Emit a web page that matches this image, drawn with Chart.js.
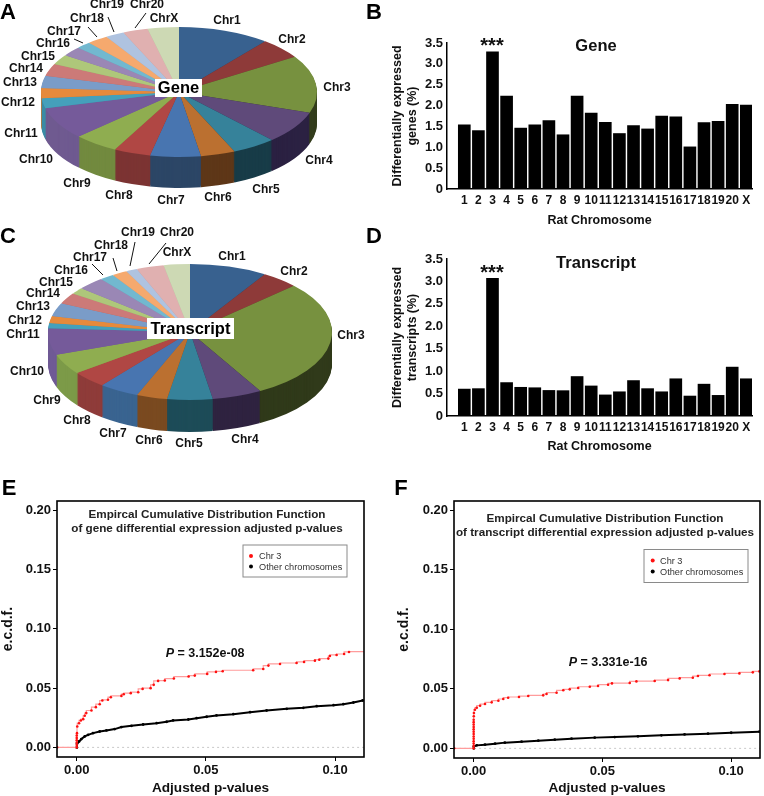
<!DOCTYPE html>
<html>
<head>
<meta charset="utf-8">
<title>Rat chromosome differential expression</title>
<script src="https://cdn.jsdelivr.net/npm/chart.js@4"></script>
<style>
    html, body { margin: 0; padding: 0; background: #fff; }
    #figure { position: relative; width: 764px; height: 796px; overflow: hidden; }
    canvas { position: absolute; }
</style>
</head>
<body>
<div id="figure"></div>
<script>
// chromosome names
const chrNames = ['Chr1', 'Chr2', 'Chr3', 'Chr4', 'Chr5', 'Chr6', 'Chr7', 'Chr8', 'Chr9', 'Chr10', 'Chr11',
    'Chr12', 'Chr13', 'Chr14', 'Chr15', 'Chr16', 'Chr17', 'Chr18', 'Chr19', 'Chr20', 'ChrX'];
const barLabels = ['1', '2', '3', '4', '5', '6', '7', '8', '9', '10', '11', '12', '13', '14', '15', '16', '17', '18', '19', '20', 'X'];

// pie shares, read as degrees of the untilted circle
const genePie = [38.8, 18.5, 51.7, 29, 18.7, 14.6, 21.4, 15.6, 19, 29, 9, 9, 11, 11, 9, 8.6, 6.3, 9, 8, 10.6, 13.2];
const transcriptPie = [31.8, 15.2, 103.3, 20.4, 18.6, 12.6, 16.4, 14.5, 17.5, 22.7, 4.5, 6, 11.4, 9.4, 5.6, 11.2, 5.9, 6.3, 4.6, 11.3, 10.7];

// bars, percent
const geneBars = [1.54, 1.40, 3.29, 2.23, 1.46, 1.54, 1.64, 1.30, 2.23, 1.82, 1.60, 1.33, 1.52, 1.44, 1.75, 1.73, 1.01, 1.59, 1.62, 2.03, 2.01];
const transcriptBars = [0.60, 0.61, 3.07, 0.745, 0.64, 0.63, 0.57, 0.565, 0.88, 0.67, 0.47, 0.54, 0.79, 0.61, 0.54, 0.83, 0.445, 0.71, 0.46, 1.09, 0.83];
const barTicks = [0, 0.5, 1, 1.5, 2, 2.5, 3, 3.5];

// e.c.d.f. curves
const geneChr3X = [-0.0076, 0, 0, 0, 0, 0, 0, 0.0001, 0.0002, 0.0009, 0.0016, 0.0025, 0.0031, 0.0037, 0.0057, 0.0074, 0.0089, 0.0099, 0.0121, 0.0132, 0.0173, 0.0182, 0.0209, 0.0238, 0.0255, 0.0286, 0.0298, 0.0315, 0.0341, 0.0376, 0.0433, 0.0457, 0.0505, 0.0539, 0.0565, 0.0683, 0.0722, 0.0742, 0.0787, 0.0851, 0.088, 0.0922, 0.0939, 0.0974, 0.098, 0.1006, 0.1035, 0.1054, 0.112];
const geneChr3Y = [0, 0, 0.002, 0.004, 0.006, 0.008, 0.01, 0.012, 0.0176, 0.0204, 0.0227, 0.0238, 0.0266, 0.0289, 0.0311, 0.0339, 0.0364, 0.0395, 0.0401, 0.0423, 0.0434, 0.0448, 0.0457, 0.0465, 0.0493, 0.0499, 0.0527, 0.056, 0.0563, 0.058, 0.0597, 0.0605, 0.0619, 0.0636, 0.0641, 0.065, 0.0661, 0.0689, 0.0703, 0.0711, 0.072, 0.0731, 0.0739, 0.0748, 0.077, 0.0779, 0.0787, 0.0804, 0.0807];
const geneOtherX = [0, 0.0001, 0.0009, 0.0018, 0.0031, 0.0044, 0.0063, 0.0089, 0.0115, 0.0147, 0.0173, 0.0212, 0.0257, 0.0309, 0.0348, 0.0373, 0.0432, 0.0464, 0.0503, 0.0541, 0.0606, 0.0671, 0.0735, 0.0813, 0.0877, 0.0929, 0.0994, 0.1032, 0.1071, 0.1107];
const geneOtherY = [0, 0.0031, 0.005, 0.007, 0.0092, 0.0106, 0.012, 0.0134, 0.0143, 0.0154, 0.0171, 0.0182, 0.0193, 0.0204, 0.0216, 0.0227, 0.0235, 0.0246, 0.0258, 0.0269, 0.028, 0.0297, 0.0311, 0.0325, 0.0333, 0.0347, 0.0356, 0.0364, 0.0378, 0.0395];
const transcriptChr3X = [-0.0076, 0, 0, 0, 0, 0, 0, 0, 0, 0, 0, 0, 0, 0, 0.00005, 0.0001, 0.0005, 0.0012, 0.0025, 0.0044, 0.007, 0.0096, 0.0115, 0.0134, 0.0176, 0.0212, 0.027, 0.0283, 0.0322, 0.0348, 0.0373, 0.0406, 0.0451, 0.0483, 0.0522, 0.0537, 0.0606, 0.0632, 0.0703, 0.0755, 0.08, 0.0851, 0.0871, 0.0916, 0.0974, 0.1032, 0.1084, 0.111];
const transcriptChr3Y = [0, 0, 0.002, 0.004, 0.006, 0.008, 0.01, 0.012, 0.014, 0.016, 0.018, 0.02, 0.022, 0.024, 0.0269, 0.0297, 0.0324, 0.0341, 0.0358, 0.0372, 0.0386, 0.04, 0.0414, 0.0425, 0.0431, 0.0439, 0.0445, 0.0456, 0.0467, 0.0487, 0.0495, 0.0506, 0.0517, 0.0523, 0.0534, 0.0545, 0.0548, 0.0562, 0.0565, 0.0573, 0.0587, 0.0593, 0.0607, 0.0613, 0.0624, 0.0629, 0.0638, 0.0646];
const transcriptOtherX = [0, 0.0001, 0.0012, 0.0044, 0.0083, 0.0121, 0.0186, 0.0251, 0.0315, 0.038, 0.047, 0.0548, 0.0638, 0.0729, 0.0819, 0.091, 0.1, 0.111];
const transcriptOtherY = [0, 0.0017, 0.0025, 0.0031, 0.0039, 0.0048, 0.0056, 0.0064, 0.0073, 0.0081, 0.009, 0.0095, 0.0101, 0.0109, 0.0117, 0.0123, 0.0131, 0.014];
const ecdfTicksX = [0, 0.05, 0.1];
const ecdfTicksY = [0, 0.05, 0.1, 0.15, 0.2];

// colours
const sliceColors = ['#38618f', '#8e3a39', '#77913f', '#5f4a7a', '#36829a', '#bb7030', '#4875b0', '#b04744', '#8fad50', '#755a9a', '#45a0bb',
    '#e68a3c', '#7a9cc8', '#cc7a78', '#aec77a', '#9a87b5', '#72b8cf', '#f5a96e', '#afc3e0', '#e0b0b0', '#cdd9b4'];
const geneSides = ['#26405f', '#5e2626', '#333d1c', '#2b2142', '#183c48', '#5e3718', '#2c4666', '#7c3433', '#728a3f', '#6f5a90', '#3a8ca5',
    '#c87830', '#6a8ab5', '#b06a68', '#98ae6a', '#87769f', '#64a2b6', '#d8955f', '#99acc6', '#c59b9b', '#b4bf9e'];
const transcriptSides = ['#26405f', '#5e2626', '#303a1a', '#2f2340', '#1d4c58', '#7a4a20', '#3a6490', '#8f3c3a', '#7c9a48', '#6f5a95', '#3a8ca5',
    '#c87830', '#6a8ab5', '#b06a68', '#98ae6a', '#87769f', '#64a2b6', '#d8955f', '#99acc6', '#c59b9b', '#b4bf9e'];

// where the pie labels sit on the page
const genePieSpots = [[227, 21], [292, 40], [337, 88], [319, 161], [266, 190], [218, 198], [171, 201], [119, 196], [77, 184], [36, 160], [21, 134],
    [18, 103], [20, 83], [26, 69], [38, 57], [53, 44], [64, 32], [87, 19], [107, 5], [147, 5], [164, 19]];
const transcriptPieSpots = [[232, 257], [294, 272], [351, 336], [245, 440], [189, 444], [149, 441], [113, 434], [77, 421], [47, 401], [27, 372], [23, 335],
    [25, 321], [33, 307], [43, 294], [56, 283], [71, 271], [90, 258], [111, 246], [138, 233], [177, 233], [177, 253]];

Chart.defaults.font.family = '"Liberation Sans", Arial, sans-serif';
Chart.defaults.color = '#111';

const figure = document.getElementById('figure');

function addCanvas(left, top, width, height) {
    const c = document.createElement('canvas');
    c.width = width;
    c.height = height;
    c.style.left = left + 'px';
    c.style.top = top + 'px';
    c.style.width = width + 'px';
    c.style.height = height + 'px';
    figure.appendChild(c);
    return c;
}

// notes, lines and boxes are given in page coordinates
const pageMarks = {
    id: 'pageMarks',
    afterDraw(chart, args, opts) {
        const ctx = chart.ctx;
        const dx = chart.canvas.offsetLeft;
        const dy = chart.canvas.offsetTop;
        ctx.save();
        ctx.translate(-dx, -dy);
        (opts.lines || []).forEach(l => {
            ctx.strokeStyle = '#111';
            ctx.lineWidth = 1;
            ctx.beginPath();
            ctx.moveTo(l[0], l[1]);
            ctx.lineTo(l[2], l[3]);
            ctx.stroke();
        });
        (opts.boxes || []).forEach(b => {
            ctx.fillStyle = '#fff';
            ctx.fillRect(b.x, b.y, b.w, b.h);
            if (b.stroke) {
                ctx.strokeStyle = b.stroke;
                ctx.lineWidth = 1;
                ctx.strokeRect(b.x, b.y, b.w, b.h);
            }
        });
        (opts.dots || []).forEach(d => {
            ctx.fillStyle = d.color;
            ctx.beginPath();
            ctx.arc(d.x, d.y, 2, 0, Math.PI * 2);
            ctx.fill();
        });
        (opts.notes || []).forEach(n => {
            ctx.font = n.font;
            ctx.fillStyle = n.color || '#111';
            ctx.textAlign = n.align || 'center';
            ctx.textBaseline = 'middle';
            ctx.fillText(n.text, n.x, n.y);
        });
        ctx.restore();
    }
};

// squashes the pie into an ellipse and stacks the side wall under it
const tiltedPie = {
    id: 'tiltedPie',
    beforeDatasetsDraw(chart, args, opts) {
        const ctx = chart.ctx;
        const arcs = chart.getDatasetMeta(0).data;
        const r = arcs[0].outerRadius;
        const sx = opts.rx / r;
        const sy = opts.ry / r;
        const tilt = () => {
            ctx.translate(opts.cx - chart.canvas.offsetLeft, opts.cy - chart.canvas.offsetTop);
            ctx.scale(sx, sy);
            ctx.translate(-arcs[0].x, -arcs[0].y);
        };
        ctx.save();
        tilt();
        for (let d = opts.depth; d > 0; d--) {
            ctx.save();
            ctx.translate(0, d / sy);
            arcs.forEach((arc, i) => {
                const own = arc.options;
                arc.options = Object.assign({}, own, { backgroundColor: opts.sides[i] });
                arc.draw(ctx);
                arc.options = own;
            });
            ctx.restore();
        }
        ctx.restore();
        ctx.save();
        tilt();
    },
    afterDatasetsDraw(chart) {
        chart.ctx.restore();
    }
};

function drawPie(canvas, values, sides, geom, spots, centerText, centerBox, leaders, letter) {
    const bold = 'bold 12px "Liberation Sans"';
    const notes = chrNames.map((name, i) => ({ text: name, x: spots[i][0], y: spots[i][1], font: bold }));
    notes.push({ text: centerText, x: centerBox.x + centerBox.w / 2, y: centerBox.y + centerBox.h / 2 + 0.5, font: 'bold 16.5px "Liberation Sans"', color: '#000' });
    notes.push(letter);
    return new Chart(canvas.getContext('2d'), {
        type: 'pie',
        data: {
            labels: chrNames,
            datasets: [{ data: values, backgroundColor: sliceColors, borderWidth: 0, clip: false }]
        },
        options: {
            responsive: false,
            animation: false,
            events: [],
            plugins: {
                legend: { display: false },
                tooltip: { enabled: false },
                tiltedPie: Object.assign({ sides: sides }, geom),
                pageMarks: {
                    lines: leaders,
                    boxes: [centerBox],
                    notes: notes
                }
            }
        },
        plugins: [tiltedPie, pageMarks]
    });
}

function drawBars(canvas, values, yTitle, plot, notes) {
    const left = canvas.offsetLeft;
    const top = canvas.offsetTop;
    return new Chart(canvas.getContext('2d'), {
        type: 'bar',
        data: {
            datasets: [{
                data: values.map((v, i) => ({ x: i + 1, y: v })),
                backgroundColor: '#000',
                barThickness: 12
            }]
        },
        options: {
            responsive: false,
            animation: false,
            events: [],
            layout: { padding: { left: 0, top: plot.top - top, right: canvas.width - (plot.right - left), bottom: 0 } },
            plugins: {
                legend: { display: false },
                tooltip: { enabled: false },
                pageMarks: { notes: notes }
            },
            scales: {
                x: {
                    type: 'linear',
                    min: -0.227,
                    max: 21.404,
                    offset: false,
                    grid: { display: false, drawTicks: false },
                    border: { color: '#000', width: 1.5 },
                    afterBuildTicks(scale) { scale.ticks = barLabels.map((_, i) => ({ value: i + 1 })); },
                    afterFit(scale) { scale.height = canvas.height - (plot.bottom - top); },
                    ticks: {
                        autoSkip: false,
                        maxRotation: 0,
                        padding: 4,
                        font: { size: 12, weight: 'bold' },
                        callback: v => barLabels[v - 1]
                    },
                    title: { display: true, text: 'Rat Chromosome', font: { size: 12.5, weight: 'bold' }, padding: { top: 6, bottom: 0 } }
                },
                y: {
                    min: 0,
                    max: 3.5,
                    grid: { display: false, drawTicks: false },
                    border: { color: '#000', width: 1.5 },
                    afterBuildTicks(scale) { scale.ticks = barTicks.map(v => ({ value: v })); },
                    afterFit(scale) { scale.width = plot.left - left; },
                    ticks: {
                        padding: 4,
                        font: { size: 13, weight: 'bold' },
                        callback: v => (v === 0 ? '0' : v.toFixed(1))
                    },
                    title: { display: true, text: yTitle, font: { size: 12.5, weight: 'bold' }, padding: { top: 24, bottom: 0 } }
                }
            }
        },
        plugins: [pageMarks]
    });
}

const plotFrame = {
    id: 'plotFrame',
    afterDatasetsDraw(chart) {
        const a = chart.chartArea;
        const ctx = chart.ctx;
        ctx.save();
        ctx.strokeStyle = '#000';
        ctx.lineWidth = 1.6;
        ctx.strokeRect(a.left, a.top, a.right - a.left, a.bottom - a.top);
        ctx.restore();
    }
};

function zip(xs, ys) {
    return xs.map((x, i) => ({ x: x, y: ys[i] }));
}

function drawEcdf(canvas, chr3, other, plot, titlePad, marks) {
    const left = canvas.offsetLeft;
    const top = canvas.offsetTop;
    return new Chart(canvas.getContext('2d'), {
        type: 'scatter',
        data: {
            datasets: [
                { data: chr3, showLine: true, stepped: 'after', borderColor: '#ff9c9c', borderWidth: 1.2, pointRadius: 1.3, pointBackgroundColor: '#ff1010', pointBorderWidth: 0 },
                { data: other, showLine: true, borderColor: '#000', borderWidth: 2, pointRadius: 1.4, pointBackgroundColor: '#000', pointBorderWidth: 0 },
                { data: [{ x: -0.0076, y: 0 }, { x: 0.112, y: 0 }], showLine: true, borderColor: '#c8c8c8', borderWidth: 1, borderDash: [2, 3], pointRadius: 0, order: 5 }
            ]
        },
        options: {
            responsive: false,
            animation: false,
            events: [],
            layout: { padding: { left: 0, top: plot.top - top, right: canvas.width - (plot.right - left), bottom: 0 } },
            plugins: {
                legend: { display: false },
                tooltip: { enabled: false },
                pageMarks: marks
            },
            scales: {
                x: {
                    type: 'linear',
                    min: -0.00764,
                    max: 0.1112,
                    grid: { drawOnChartArea: false, drawTicks: true, tickLength: 4, color: '#000' },
                    border: { display: false },
                    afterBuildTicks(scale) { scale.ticks = ecdfTicksX.map(v => ({ value: v })); },
                    afterFit(scale) { scale.height = canvas.height - (plot.bottom - top); },
                    ticks: { padding: 2, maxRotation: 0, font: { size: 13, weight: 'bold' }, callback: v => v.toFixed(2) },
                    title: { display: true, text: 'Adjusted p-values', font: { size: 13.6, weight: 'bold' }, padding: { top: 2, bottom: 0 } }
                },
                y: {
                    type: 'linear',
                    min: -0.0081,
                    max: 0.2076,
                    grid: { drawOnChartArea: false, drawTicks: true, tickLength: 4, color: '#000' },
                    border: { display: false },
                    afterBuildTicks(scale) { scale.ticks = ecdfTicksY.map(v => ({ value: v })); },
                    afterFit(scale) { scale.width = plot.left - left; },
                    ticks: { padding: 2, font: { size: 13, weight: 'bold' }, callback: v => v.toFixed(2) },
                    title: { display: true, text: 'e.c.d.f.', font: { size: 14, weight: 'bold' }, padding: { top: titlePad, bottom: 0 } }
                }
            }
        },
        plugins: [plotFrame, pageMarks]
    });
}

const letterFont = 'bold 22px "Liberation Sans"';
const starFont = 'bold 20px "Liberation Sans"';
const titleFont = 'bold 16.5px "Liberation Sans"';
const ecdfTitleFont = 'bold 11.7px "Liberation Sans"';
const legendFont = '9.2px "Liberation Sans"';

drawPie(addCanvas(0, 0, 366, 224), genePie, geneSides,
    { cx: 179, cy: 92, rx: 138, ry: 65, depth: 31 },
    genePieSpots, 'Gene', { x: 155, y: 79, w: 47, h: 18 },
    [[74, 39, 83, 43], [88, 27, 97, 37], [108, 17, 114, 32], [146, 13, 135, 28]],
    { text: 'A', x: 8, y: 13, font: letterFont, color: '#000' });

drawPie(addCanvas(0, 224, 366, 236), transcriptPie, transcriptSides,
    { cx: 190, cy: 332, rx: 142, ry: 68, depth: 32 },
    transcriptPieSpots, 'Transcript', { x: 147, y: 318, w: 87, h: 21 },
    [[92, 264, 103, 275], [113, 258, 117, 271], [135, 242, 130, 266], [166, 243, 149, 264]],
    { text: 'C', x: 8, y: 237, font: letterFont, color: '#000' });

drawBars(addCanvas(366, 0, 398, 228), geneBars, ['Differentially expressed', 'genes (%)'],
    { left: 447, right: 752, top: 43, bottom: 189 },
    [
        { text: 'B', x: 374, y: 13, font: letterFont, color: '#000' },
        { text: 'Gene', x: 596, y: 46, font: titleFont },
        { text: '***', x: 492, y: 46, font: starFont }
    ]);

drawBars(addCanvas(366, 228, 398, 226), transcriptBars, ['Differentially expressed', 'transcripts (%)'],
    { left: 447, right: 752, top: 259, bottom: 416 },
    [
        { text: 'D', x: 374, y: 237, font: letterFont, color: '#000' },
        { text: 'Transcript', x: 596, y: 263, font: titleFont },
        { text: '***', x: 492, y: 273, font: starFont }
    ]);

drawEcdf(addCanvas(0, 470, 382, 326), zip(geneChr3X, geneChr3Y), zip(geneOtherX, geneOtherY),
    { left: 57, right: 364, top: 501, bottom: 757 }, 0,
    {
        boxes: [{ x: 243, y: 545, w: 104, h: 32, stroke: '#8a8a8a' }],
        dots: [{ x: 251, y: 556, color: '#ff1010' }, { x: 251, y: 566.5, color: '#000' }],
        notes: [
            { text: 'E', x: 9, y: 489, font: letterFont, color: '#000' },
            { text: 'Empircal Cumulative Distribution Function', x: 207, y: 515, font: ecdfTitleFont, color: '#222' },
            { text: 'of gene differential expression adjusted p-values', x: 207, y: 529, font: ecdfTitleFont, color: '#222' },
            { text: 'Chr 3', x: 259, y: 556, font: legendFont, align: 'left', color: '#333' },
            { text: 'Other chromosomes', x: 259, y: 567, font: legendFont, align: 'left', color: '#333' },
            { text: 'P', x: 165.7, y: 654, font: 'italic bold 12.5px "Liberation Sans"', align: 'left' },
            { text: ' = 3.152e-08', x: 174, y: 654, font: 'bold 12.5px "Liberation Sans"', align: 'left' }
        ]
    });

drawEcdf(addCanvas(382, 470, 382, 326), zip(transcriptChr3X, transcriptChr3Y), zip(transcriptOtherX, transcriptOtherY),
    { left: 454, right: 761, top: 501, bottom: 758 }, 14,
    {
        boxes: [{ x: 644, y: 549.5, w: 104, h: 33, stroke: '#8a8a8a' }],
        dots: [{ x: 652.7, y: 560.5, color: '#ff1010' }, { x: 652.7, y: 571.5, color: '#000' }],
        notes: [
            { text: 'F', x: 401, y: 489, font: letterFont, color: '#000' },
            { text: 'Empircal Cumulative Distribution Function', x: 605, y: 519, font: ecdfTitleFont, color: '#222' },
            { text: 'of transcript differential expression adjusted p-values', x: 605, y: 533, font: ecdfTitleFont, color: '#222' },
            { text: 'Chr 3', x: 660, y: 561, font: legendFont, align: 'left', color: '#333' },
            { text: 'Other chromosomes', x: 660, y: 572, font: legendFont, align: 'left', color: '#333' },
            { text: 'P', x: 568.7, y: 663, font: 'italic bold 12.5px "Liberation Sans"', align: 'left' },
            { text: ' = 3.331e-16', x: 577, y: 663, font: 'bold 12.5px "Liberation Sans"', align: 'left' }
        ]
    });
</script>
</body>
</html>
